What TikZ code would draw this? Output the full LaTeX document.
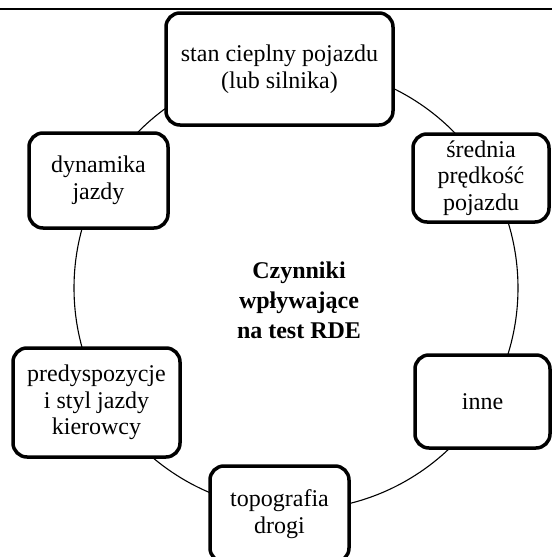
\documentclass[tikz,border=0pt]{standalone}
\usepackage{fontspec}
\setmainfont{Liberation Serif}
\begin{document}
\begin{tikzpicture}[x=1pt,y=-1pt,
  factor/.style={draw=black,line width=3.5pt,rounded corners=14pt,fill=white,
    align=center,inner sep=0pt,font=\fontsize{24}{26.5}\selectfont},
  ring/.style={draw=black,line width=1.1pt},
  topline/.style={draw=black,line width=2.2pt}]
\useasboundingbox (0,0) rectangle (552,557);
\coordinate (tl) at (0,9);
\coordinate (tr) at (552,9);
\draw[topline] (tl) -- (tr);
\coordinate (cc) at (296,288);
\draw[ring] (cc) circle[radius=222];
\node[factor,minimum width=227pt,minimum height=112pt] (stan) at (279.5,69) {stan cieplny pojazdu\\(lub silnika)};
\node[factor,minimum width=136pt,minimum height=88pt] (sred) at (481,178) {średnia\\prędkość\\pojazdu};
\node[factor,minimum width=139pt,minimum height=95pt] (dyn) at (98.5,180.5) {dynamika\\jazdy};
\node[factor,minimum width=167pt,minimum height=109pt] (pred) at (96.5,402.5) {predyspozycje\\i styl jazdy\\kierowcy};
\node[factor,minimum width=135pt,minimum height=93pt] (inne) at (482.5,401.5) {inne};
\node[factor,minimum width=139pt,minimum height=96pt] (topo) at (279.5,514) {topografia\\drogi};
\node[align=center,inner sep=0pt,font=\fontsize{24}{30}\selectfont\bfseries] (mid) at (299,300) {Czynniki\\wpływające\\na test RDE};
\end{tikzpicture}
\end{document}
